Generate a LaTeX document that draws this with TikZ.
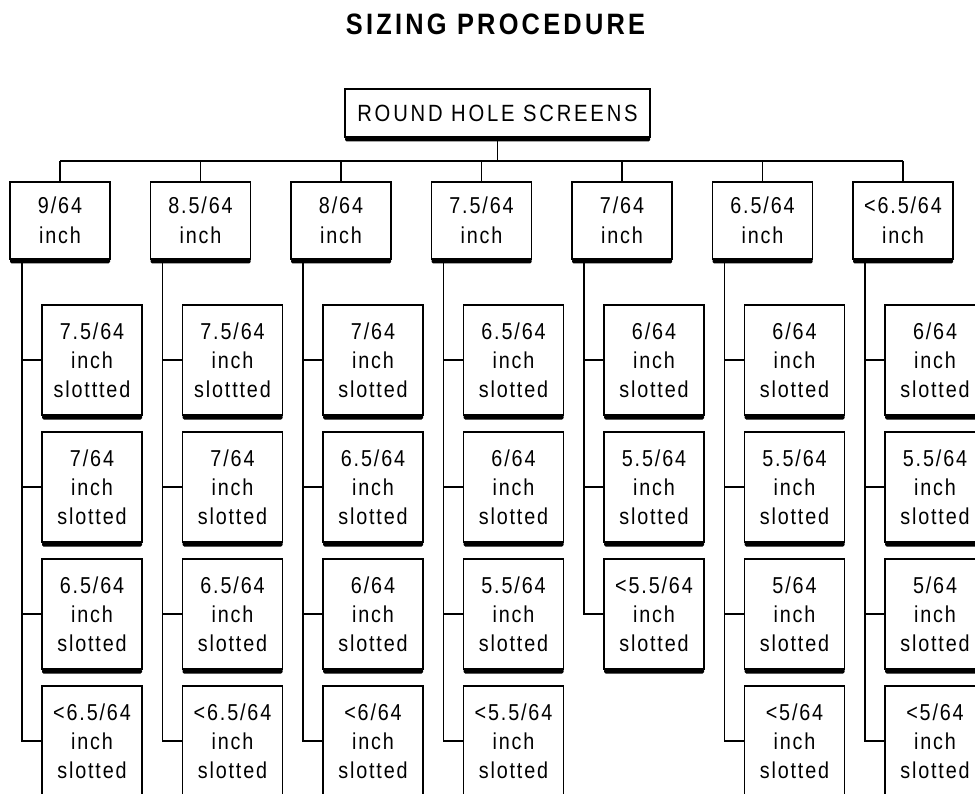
\documentclass[tikz,border=0pt]{standalone}
\usepackage{fontspec}
\newfontfamily\boxfont[FakeStretch=0.86,LetterSpace=8]{Liberation Sans}
\newfontfamily\topfont[FakeStretch=0.86,LetterSpace=12]{Liberation Sans}
\newfontfamily\titlefont[FakeStretch=0.86,LetterSpace=11]{Liberation Sans}
\begin{document}
\begin{tikzpicture}[x=1pt,y=-1pt,
  line width=1.2pt,
  bx/.style={draw,line width=1.2pt,outer sep=0pt,inner sep=0pt,align=center},
  topbox/.style={bx,minimum width=305pt,minimum height=48pt,font=\topfont\fontsize{23.5}{28}\selectfont},
  hd/.style={bx,minimum width=100pt,minimum height=77pt,font=\boxfont\fontsize{23}{30}\selectfont},
  kid/.style={bx,minimum width=100pt,minimum height=110pt,font=\boxfont\fontsize{23}{29}\selectfont},
  shade/.style={fill=black,rounded corners=1.5pt}]
\useasboundingbox (0,0) rectangle (975,794);

\node[anchor=base,font=\titlefont\bfseries\fontsize{29.5}{34}\selectfont] (title) at (495.5,35) {SIZING PROCEDURE};

\node[topbox] (top) at (497.5,113) {ROUND HOLE SCREENS};

% level 1
\node[hd] (h1) at (60,220.5) {9/64\\inch};
\node[hd] (h2) at (200.5,220.5) {8.5/64\\inch};
\node[hd] (h3) at (341,220.5) {8/64\\inch};
\node[hd] (h4) at (481.5,220.5) {7.5/64\\inch};
\node[hd] (h5) at (622,220.5) {7/64\\inch};
\node[hd] (h6) at (762.5,220.5) {6.5/64\\inch};
\node[hd] (h7) at (903,220.5) {<6.5/64\\inch};

% column 1
\node[kid] (k1a) at (92,360) {7.5/64\\inch\\slottted};
\node[kid] (k1b) at (92,487) {7/64\\inch\\slotted};
\node[kid] (k1c) at (92,614) {6.5/64\\inch\\slotted};
\node[kid] (k1d) at (92,741) {<6.5/64\\inch\\slotted};
% column 2
\node[kid] (k2a) at (232.5,360) {7.5/64\\inch\\slottted};
\node[kid] (k2b) at (232.5,487) {7/64\\inch\\slotted};
\node[kid] (k2c) at (232.5,614) {6.5/64\\inch\\slotted};
\node[kid] (k2d) at (232.5,741) {<6.5/64\\inch\\slotted};
% column 3
\node[kid] (k3a) at (373,360) {7/64\\inch\\slotted};
\node[kid] (k3b) at (373,487) {6.5/64\\inch\\slotted};
\node[kid] (k3c) at (373,614) {6/64\\inch\\slotted};
\node[kid] (k3d) at (373,741) {<6/64\\inch\\slotted};
% column 4
\node[kid] (k4a) at (513.5,360) {6.5/64\\inch\\slotted};
\node[kid] (k4b) at (513.5,487) {6/64\\inch\\slotted};
\node[kid] (k4c) at (513.5,614) {5.5/64\\inch\\slotted};
\node[kid] (k4d) at (513.5,741) {<5.5/64\\inch\\slotted};
% column 5
\node[kid] (k5a) at (654,360) {6/64\\inch\\slotted};
\node[kid] (k5b) at (654,487) {5.5/64\\inch\\slotted};
\node[kid] (k5c) at (654,614) {<5.5/64\\inch\\slotted};
% column 6
\node[kid] (k6a) at (794.5,360) {6/64\\inch\\slotted};
\node[kid] (k6b) at (794.5,487) {5.5/64\\inch\\slotted};
\node[kid] (k6c) at (794.5,614) {5/64\\inch\\slotted};
\node[kid] (k6d) at (794.5,741) {<5/64\\inch\\slotted};
% column 7
\node[kid] (k7a) at (935,360) {6/64\\inch\\slotted};
\node[kid] (k7b) at (935,487) {5.5/64\\inch\\slotted};
\node[kid] (k7c) at (935,614) {5/64\\inch\\slotted};
\node[kid] (k7d) at (935,741) {<5/64\\inch\\slotted};

% bus
\coordinate (bus) at (0,161);
\draw (top.south) -- (top.south |- bus);
\draw (h1.north |- bus) -- (h7.north |- bus);
\foreach \n in {h1,h2,h3,h4,h5,h6,h7}
  \draw (\n.north |- bus) -- (\n.north);

% trunks
\foreach \h/\l in {h1/k1d,h2/k2d,h3/k3d,h4/k4d,h5/k5c,h6/k6d,h7/k7d}
  \draw ([xshift=12pt]\h.south west) |- (\l.west);
\foreach \k in {k1a,k1b,k1c,k2a,k2b,k2c,k3a,k3b,k3c,k4a,k4b,k4c,k5a,k5b,k6a,k6b,k6c,k7a,k7b,k7c}
  \draw (\k.west) -- ++(-20,0);

% shadows
\foreach \n in {top,h1,h2,h3,h4,h5,h6,h7,k1a,k1b,k1c,k1d,k2a,k2b,k2c,k2d,k3a,k3b,k3c,k3d,k4a,k4b,k4c,k4d,k5a,k5b,k5c,k6a,k6b,k6c,k6d,k7a,k7b,k7c,k7d}
  \fill[shade] (\n.south west) rectangle ([yshift=-4.5pt]\n.south east);
\end{tikzpicture}
\end{document}
